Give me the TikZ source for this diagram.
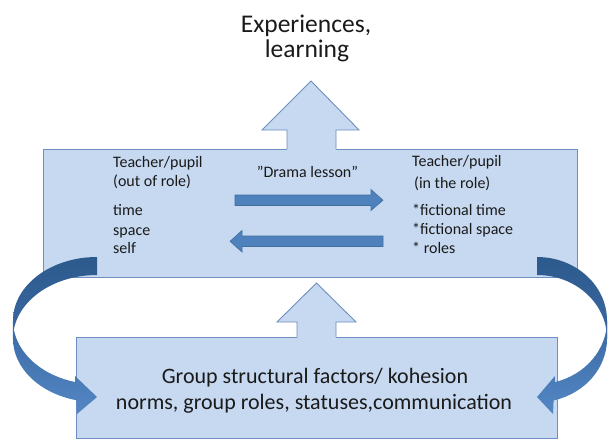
\documentclass[tikz,border=0pt]{standalone}
\usepackage{fontspec}
\setmainfont{Carlito}
\definecolor{boxfill}{HTML}{C6D9F0}
\definecolor{boxline}{HTML}{6E8FBF}
\definecolor{arrfill}{HTML}{4F81BD}
\definecolor{arrline}{HTML}{41709F}
\definecolor{backdark}{HTML}{2D5A8C}
\definecolor{backmid}{HTML}{3A69A3}
\definecolor{frontlight}{HTML}{5387C4}
\definecolor{txt}{HTML}{1A1A1A}
\begin{document}
\begin{tikzpicture}[x=1pt,y=-1pt,
  box/.style={draw=boxline,fill=boxfill,line width=0.9pt,inner sep=0pt,anchor=north west},
  blockline/.style={draw=boxline,line width=0.9pt,line join=miter},
  hArrow/.style={fill=arrfill,draw=arrline,line width=0.6pt},
  smalltext/.style={font=\fontsize{16}{19}\selectfont,text=txt,inner sep=0pt,anchor=base west},
  midtext/.style={font=\fontsize{16}{19}\selectfont,text=txt,inner sep=0pt,anchor=base},
  bigtext/.style={font=\fontsize{25.5}{25}\selectfont,text=txt,inner sep=0pt,anchor=base},
  bottext/.style={font=\fontsize{22}{26}\selectfont,text=txt,inner sep=0pt,anchor=base}]
\useasboundingbox (0,0) rectangle (609,440);

% boxes
\node[box,minimum width=534pt,minimum height=128pt] (topbox) at (43,149) {};
\node[box,minimum width=481pt,minimum height=101pt] (botbox) at (76,337) {};

% block arrow: top box -> text
\fill[boxfill] (287,150.5) -- (287,130) -- (262,130) -- (311,81) -- (359,130) -- (336,130) -- (336,150.5) -- cycle;
\draw[blockline] (287,149) -- (287,130) -- (262,130) -- (311,81) -- (359,130) -- (336,130) -- (336,149);

% block arrow: bottom box -> top box
\fill[boxfill] (297,338.5) -- (297,322) -- (277,322) -- (316.5,283) -- (356,322) -- (336,322) -- (336,338.5) -- cycle;
\draw[blockline] (297,337) -- (297,322) -- (277,322) -- (316.5,283) -- (356,322) -- (336,322) -- (336,337);

% horizontal arrows
\draw[hArrow] (235,195) -- (371,195) -- (371,189.5) -- (383,200.2) -- (371,210.5) -- (371,205.5) -- (235,205.5) -- cycle;
\draw[hArrow] (383,236) -- (242,236) -- (242,230.5) -- (230,241.3) -- (242,252) -- (242,246.5) -- (383,246.5) -- cycle;

% left curved arrow
\shade[top color=backdark,bottom color=backmid]
  (97,257) arc[start angle=270,end angle=180,x radius=84,y radius=63.6]
  -- (13,338.6) arc[start angle=180,end angle=270,x radius=84,y radius=63.6] -- cycle;
\shade[top color=backmid,bottom color=frontlight]
  (13,320.6) arc[start angle=180,end angle=105,x radius=84,y radius=63.6]
  -- (75,376) -- (97,397) -- (77,414) -- (76.2,400.2)
  arc[start angle=104.3,end angle=180,x radius=84,y radius=63.6] -- cycle;

% right curved arrow
\shade[top color=backdark,bottom color=backmid]
  (537,257) arc[start angle=270,end angle=360,x radius=70,y radius=63.6]
  -- (607,338.6) arc[start angle=0,end angle=-90,x radius=70,y radius=63.6] -- cycle;
\shade[top color=backmid,bottom color=frontlight]
  (607,320.6) arc[start angle=0,end angle=75.3,x radius=70,y radius=63.6]
  -- (555,376) -- (537,397) -- (553,414) -- (553.6,400.4)
  arc[start angle=76.3,end angle=0,x radius=70,y radius=63.6] -- cycle;

% top texts
\node[bigtext] (exp1) at (306,32) {Experiences,};
\node[bigtext] (exp2) at (307,57) {learning};

% top box texts
\node[smalltext] (l1) at (113,167) {Teacher/pupil};
\node[smalltext] (l2) at (113,186.5) {(out of role)};
\node[smalltext] (l3) at (113,215) {time};
\node[smalltext] (l4) at (113,235) {space};
\node[smalltext] (l5) at (113,253) {self};
\node[midtext] (drama) at (307.5,177) {"Drama lesson"};
\node[smalltext] (r1) at (412,166) {Teacher/pupil};
\node[smalltext] (r2) at (414,188) {(in the role)};
\node[smalltext] (r3) at (412,215) {*fictional time};
\node[smalltext] (r4) at (412,234) {*fictional space};
\node[smalltext] (r5) at (412,253) {* roles};

% bottom box texts
\node[bottext] (b1) at (315,383) {Group structural factors/ kohesion};
\node[bottext] (b2) at (314,409) {norms, group roles, statuses,communication};
\end{tikzpicture}
\end{document}
